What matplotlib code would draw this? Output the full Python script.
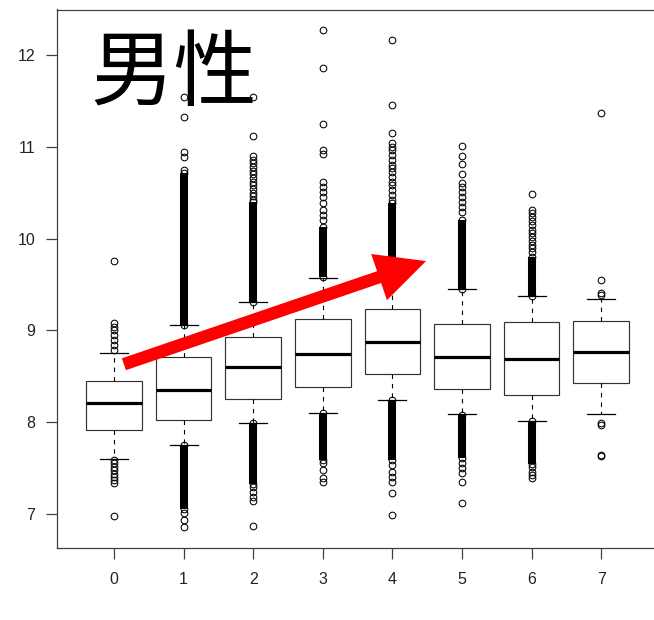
import matplotlib
matplotlib.use("Agg")
import matplotlib.pyplot as plt
from matplotlib.patches import FancyArrowPatch, ArrowStyle

# ---------------- data ----------------
groups = ["0", "1", "2", "3", "4", "5", "6", "7"]

q1     = [7.918, 8.024, 8.253, 8.383, 8.522, 8.358, 8.300, 8.430]
median = [8.206, 8.348, 8.598, 8.746, 8.870, 8.710, 8.688, 8.761]
q3     = [8.452, 8.714, 8.925, 9.128, 9.233, 9.070, 9.090, 9.106]
whislo = [7.600, 7.755, 7.995, 8.100, 8.242, 8.086, 8.013, 8.086]
whishi = [8.750, 9.055, 9.306, 9.574, 9.620, 9.448, 9.378, 9.340]

# extents of the solid (overplotted) outlier columns: (start, end), None = no column
upper_band = [None, (9.06, 10.72), (9.31, 10.40), (9.58, 10.13), (9.62, 10.39),
              (9.45, 10.20), (9.38, 9.80), None]
lower_band = [None, (7.06, 7.75), (7.33, 7.99), (7.59, 8.10), (7.59, 8.24),
              (7.61, 8.08), (7.55, 8.01), None]

# individually visible outliers
outliers_0 = [9.753, 9.077, 9.040, 9.004, 8.950, 8.895, 8.840, 8.787,
              7.588, 7.552, 7.515, 7.480, 7.440, 7.406, 7.370, 7.334, 6.978]
outliers_1 = [11.546, 11.328, 10.947, 10.892, 10.750, 7.007, 6.935, 6.862]
outliers_2 = [11.546, 11.118, 10.90, 10.86, 10.82, 10.78, 10.74, 10.70, 10.66,
              10.62, 10.58, 10.54, 10.50, 10.46, 10.42,
              7.297, 7.243, 7.188, 7.145, 6.869]
outliers_3 = [12.272, 11.862, 11.245, 10.965, 10.918, 10.62, 10.566, 10.51,
              10.456, 10.385, 10.31, 10.257, 10.20,
              7.552, 7.48, 7.39, 7.345]
outliers_4 = [12.17, 11.46, 11.15, 11.038, 10.998, 10.965, 10.91, 10.856,
              10.80, 10.77, 10.726, 10.67, 10.616, 10.58, 10.53, 10.475, 10.42,
              7.534, 7.46, 7.406, 7.35, 7.225, 6.986]
outliers_5 = [11.009, 10.90, 10.81, 10.71, 10.61, 10.56, 10.51, 10.45, 10.40,
              10.34, 10.29, 7.552, 7.498, 7.444, 7.35, 7.117]
outliers_6 = [10.49, 10.31, 10.28, 10.24, 10.19, 10.15, 10.10, 10.06, 10.02,
              9.97, 9.93, 9.90, 9.85, 7.515, 7.46, 7.425, 7.39]
outliers_7 = [11.365, 9.55, 9.41, 9.385, 7.995, 7.973, 7.646, 7.630]
outliers = [outliers_0, outliers_1, outliers_2, outliers_3,
            outliers_4, outliers_5, outliers_6, outliers_7]

y_ticks = [7, 8, 9, 10, 11, 12]
title_text = "男性"
arrow_start = (0.142, 8.632)   # (group position, value)
arrow_end = (4.483, 9.756)

# ---------------- figure ----------------
W, H = 654, 620
fig = plt.figure(figsize=(W / 100, H / 100), dpi=100)
ax_l, ax_r, ax_t, ax_b = 57, 658, 9.5, 548
ax = fig.add_axes([ax_l / W, (H - ax_b) / H, (ax_r - ax_l) / W, (ax_b - ax_t) / H])

positions = list(range(len(groups)))
stats = []
for i in positions:
    stats.append(dict(med=median[i], q1=q1[i], q3=q3[i],
                      whislo=whislo[i], whishi=whishi[i],
                      fliers=outliers[i], label=groups[i]))

edge = "#333333"
ax.bxp(stats, positions=positions, widths=0.8, capwidths=0.4,
       patch_artist=True, showfliers=True,
       boxprops=dict(facecolor="white", edgecolor=edge, linewidth=0.85),
       medianprops=dict(color="black", linewidth=2.3, solid_capstyle="butt"),
       whiskerprops=dict(color="black", linewidth=0.8, linestyle=(0, (4, 4.5))),
       capprops=dict(color="black", linewidth=0.9),
       flierprops=dict(marker="o", markersize=4.8, markerfacecolor="none",
                       markeredgecolor="black", markeredgewidth=0.75,
                       linestyle="none"))

# solid outlier columns
for i in positions:
    for band in (upper_band[i], lower_band[i]):
        if band is None:
            continue
        lo, hi = band
        ax.vlines(i, lo, hi, colors="black", linewidth=5.8, zorder=2.5)
        ax.plot([i, i], [lo, hi], linestyle="none", marker="o", markersize=4.8,
                markerfacecolor="none", markeredgecolor="black",
                markeredgewidth=0.75, zorder=2.5)

ax.set_xlim(-0.819, 7.816)
ax.set_ylim(6.63, 12.497)
ax.set_xticks(positions)
ax.set_xticklabels(groups)
ax.set_yticks(y_ticks)
ax.set_yticklabels([str(t) for t in y_ticks])

for s in ax.spines.values():
    s.set_color("#404040")
    s.set_linewidth(0.9)
ax.tick_params(axis="both", direction="out", length=7.6, width=0.9,
               color="#404040", labelsize=11.5, labelcolor="#222222")
ax.tick_params(axis="y", pad=8.0)
ax.tick_params(axis="x", pad=9.5)
for lab in ax.get_xticklabels() + ax.get_yticklabels():
    lab.set_fontfamily(["Liberation Sans", "DejaVu Sans"])

# title
ax.text((90 - ax_l) / (ax_r - ax_l), (ax_b - 75) / (ax_b - ax_t), title_text,
        transform=ax.transAxes, ha="left", va="center", fontsize=60,
        family=["Noto Sans CJK JP", "DejaVu Sans"], color="black", zorder=1)

# red arrow
arrow = FancyArrowPatch(arrow_start, arrow_end,
                        arrowstyle=ArrowStyle.Simple(head_length=35.7, head_width=35.1,
                                                     tail_width=9.0),
                        mutation_scale=1, shrinkA=0, shrinkB=0,
                        facecolor="#ff0000", edgecolor="none", zorder=10)
ax.add_patch(arrow)

fig.savefig("out.png", dpi=100)
